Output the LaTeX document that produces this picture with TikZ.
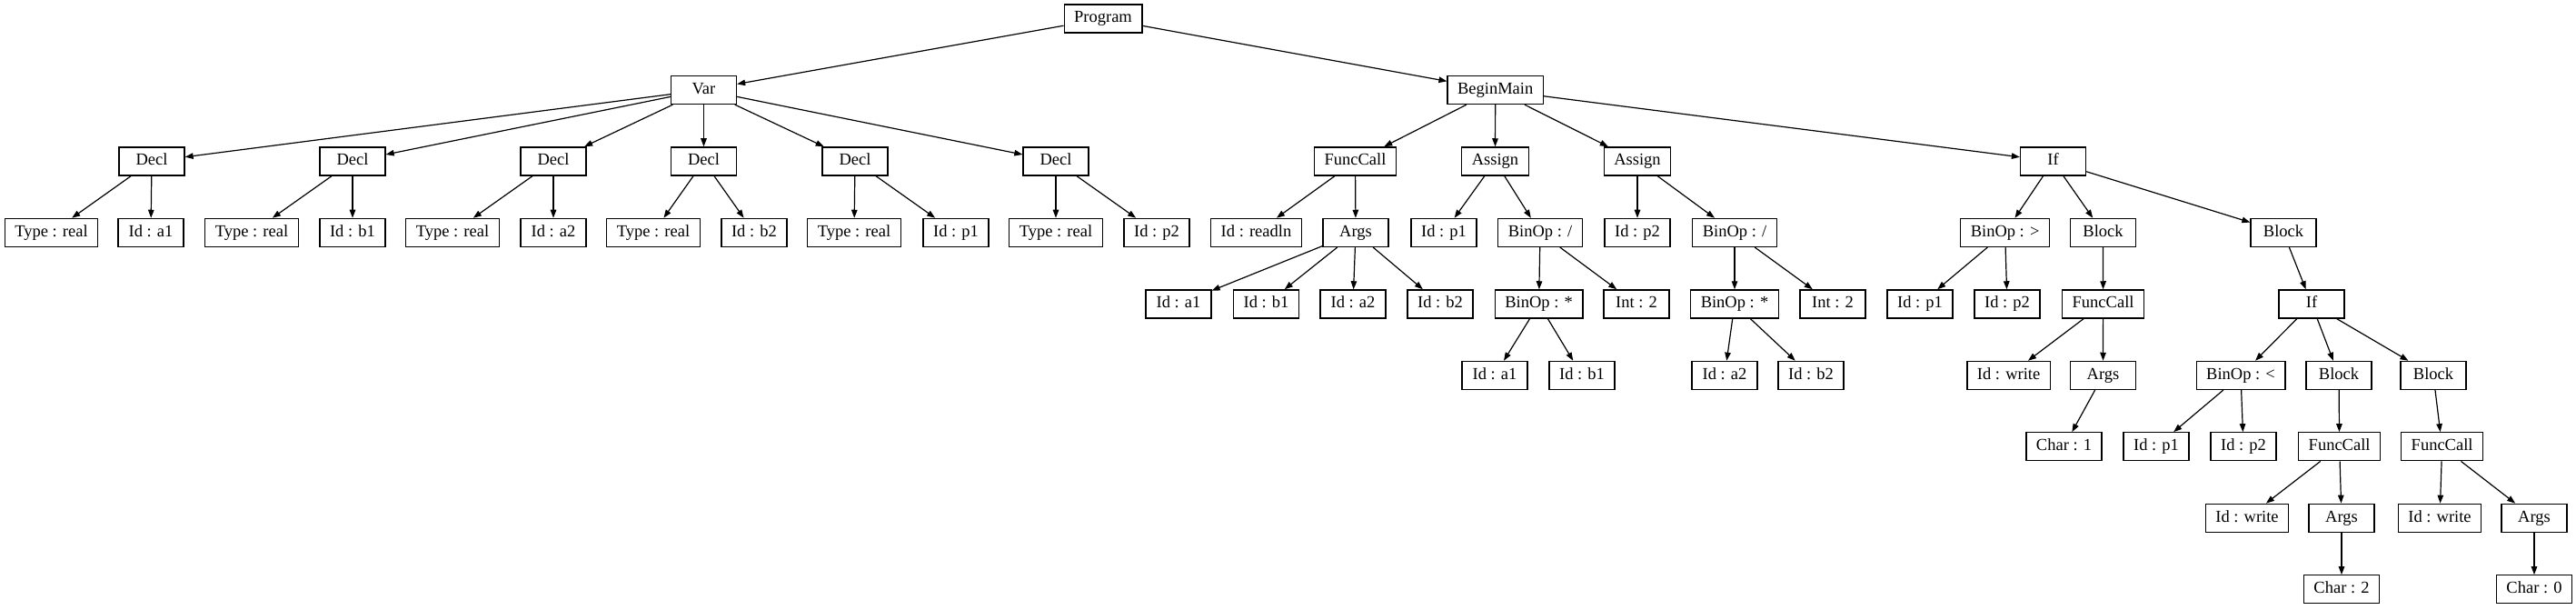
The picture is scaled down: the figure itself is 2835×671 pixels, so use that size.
\documentclass[tikz,border=0pt]{standalone}
\usepackage{fontspec}
\setmainfont{Liberation Serif}
\usetikzlibrary{arrows.meta}
\tikzset{
	ast/.style={draw, line width=1.3pt, minimum width=72pt, minimum height=31pt, inner xsep=11pt, inner ysep=0pt, text height=13pt, text depth=4pt, font=\fontsize{18.5}{20}\selectfont},
	link/.style={-{Triangle[length=9pt,width=6.5pt]}, line width=1.2pt}
}
\begin{document}
\begin{tikzpicture}[x=1pt, y=-1pt]
		\useasboundingbox (0,0) rectangle (2835,671);

		\node[ast] (prog) at (1214,20.5) {Program};

		\node[ast] (var) at (774.5,99) {Var};
		\node[ast] (main) at (1645.7,99) {BeginMain};

		\node[ast] (decl1) at (167,177.4) {Decl};
		\node[ast] (decl2) at (388,177.4) {Decl};
		\node[ast] (decl3) at (609,177.4) {Decl};
		\node[ast] (decl4) at (774.5,177.4) {Decl};
		\node[ast] (decl5) at (941,177.4) {Decl};
		\node[ast] (decl6) at (1162,177.4) {Decl};
		\node[ast] (call) at (1491.5,177.4) {FuncCall};
		\node[ast] (assign1) at (1645.5,177.4) {Assign};
		\node[ast] (assign2) at (1802,177.4) {Assign};
		\node[ast] (if1) at (2259.5,177.4) {If};

		\node[ast] (type1) at (56.5,255.9) {Type : real};
		\node[ast] (id1) at (166,255.9) {Id : a1};
		\node[ast] (type2) at (277,255.9) {Type : real};
		\node[ast] (id2) at (388,255.9) {Id : b1};
		\node[ast] (type3) at (498,255.9) {Type : real};
		\node[ast] (id3) at (609,255.9) {Id : a2};
		\node[ast] (type4) at (719,255.9) {Type : real};
		\node[ast] (id4) at (830,255.9) {Id : b2};
		\node[ast] (type5) at (940,255.9) {Type : real};
		\node[ast] (id5) at (1052,255.9) {Id : p1};
		\node[ast] (type6) at (1162,255.9) {Type : real};
		\node[ast] (id6) at (1273,255.9) {Id : p2};
		\node[ast] (readln) at (1382.5,255.9) {Id : readln};
		\node[ast] (args) at (1492,255.9) {Args};
		\node[ast] (lhs1) at (1589,255.9) {Id : p1};
		\node[ast] (div1) at (1695,255.9) {BinOp : /};
		\node[ast] (lhs2) at (1802,255.9) {Id : p2};
		\node[ast] (div2) at (1909,255.9) {BinOp : /};
		\node[ast] (gt) at (2206.6,255.9) {BinOp : >};
		\node[ast] (block1) at (2314.5,255.9) {Block};
		\node[ast] (block2) at (2513,255.9) {Block};

		\node[ast] (arga1) at (1297,334.4) {Id : a1};
		\node[ast] (argb1) at (1393.5,334.4) {Id : b1};
		\node[ast] (arga2) at (1489,334.4) {Id : a2};
		\node[ast] (argb2) at (1585,334.4) {Id : b2};
		\node[ast] (mul1) at (1693.6,334.4) {BinOp : *};
		\node[ast] (int1) at (1801,334.4) {Int : 2};
		\node[ast] (mul2) at (1909,334.4) {BinOp : *};
		\node[ast] (int2) at (2017,334.4) {Int : 2};
		\node[ast] (gtp1) at (2113,334.4) {Id : p1};
		\node[ast] (gtp2) at (2209,334.4) {Id : p2};
		\node[ast] (call1) at (2314.6,334.4) {FuncCall};
		\node[ast] (if2) at (2544,334.4) {If};

		\node[ast] (mula1) at (1645,412.9) {Id : a1};
		\node[ast] (mulb1) at (1741,412.9) {Id : b1};
		\node[ast] (mula2) at (1898,412.9) {Id : a2};
		\node[ast] (mulb2) at (1993,412.9) {Id : b2};
		\node[ast] (write1) at (2210.6,412.9) {Id : write};
		\node[ast] (args1) at (2314.5,412.9) {Args};
		\node[ast] (lt) at (2466,412.9) {BinOp : <};
		\node[ast] (block3) at (2574,412.9) {Block};
		\node[ast] (block4) at (2678,412.9) {Block};

		\node[ast] (char1) at (2271.5,491.3) {Char : 1};
		\node[ast] (ltp1) at (2373,491.3) {Id : p1};
		\node[ast] (ltp2) at (2469,491.3) {Id : p2};
		\node[ast] (call2) at (2574.6,491.3) {FuncCall};
		\node[ast] (call3) at (2687.6,491.3) {FuncCall};

		\node[ast] (write2) at (2473,569.8) {Id : write};
		\node[ast] (args2) at (2577,569.8) {Args};
		\node[ast] (write3) at (2685,569.8) {Id : write};
		\node[ast] (args3) at (2789,569.8) {Args};

		\node[ast] (char2) at (2577,648.3) {Char : 2};
		\node[ast] (char0) at (2789,648.3) {Char : 0};

		\draw[link] (prog) -- (var);
		\draw[link] (prog) -- (main);

		\draw[link] (var) -- (decl1);
		\draw[link] (var) -- (decl2);
		\draw[link] (var) -- (decl3);
		\draw[link] (var) -- (decl4);
		\draw[link] (var) -- (decl5);
		\draw[link] (var) -- (decl6);
		\draw[link] (decl1) -- (type1);
		\draw[link] (decl1) -- (id1);
		\draw[link] (decl2) -- (type2);
		\draw[link] (decl2) -- (id2);
		\draw[link] (decl3) -- (type3);
		\draw[link] (decl3) -- (id3);
		\draw[link] (decl4) -- (type4);
		\draw[link] (decl4) -- (id4);
		\draw[link] (decl5) -- (type5);
		\draw[link] (decl5) -- (id5);
		\draw[link] (decl6) -- (type6);
		\draw[link] (decl6) -- (id6);

		\draw[link] (main) -- (call);
		\draw[link] (main) -- (assign1);
		\draw[link] (main) -- (assign2);
		\draw[link] (main) -- (if1);

		\draw[link] (call) -- (readln);
		\draw[link] (call) -- (args);
		\draw[link] (args) -- (arga1);
		\draw[link] (args) -- (argb1);
		\draw[link] (args) -- (arga2);
		\draw[link] (args) -- (argb2);

		\draw[link] (assign1) -- (lhs1);
		\draw[link] (assign1) -- (div1);
		\draw[link] (div1) -- (mul1);
		\draw[link] (div1) -- (int1);
		\draw[link] (mul1) -- (mula1);
		\draw[link] (mul1) -- (mulb1);

		\draw[link] (assign2) -- (lhs2);
		\draw[link] (assign2) -- (div2);
		\draw[link] (div2) -- (mul2);
		\draw[link] (div2) -- (int2);
		\draw[link] (mul2) -- (mula2);
		\draw[link] (mul2) -- (mulb2);

		\draw[link] (if1) -- (gt);
		\draw[link] (if1) -- (block1);
		\draw[link] (if1) -- (block2);
		\draw[link] (gt) -- (gtp1);
		\draw[link] (gt) -- (gtp2);
		\draw[link] (block1) -- (call1);
		\draw[link] (call1) -- (write1);
		\draw[link] (call1) -- (args1);
		\draw[link] (args1) -- (char1);

		\draw[link] (block2) -- (if2);
		\draw[link] (if2) -- (lt);
		\draw[link] (if2) -- (block3);
		\draw[link] (if2) -- (block4);
		\draw[link] (lt) -- (ltp1);
		\draw[link] (lt) -- (ltp2);
		\draw[link] (block3) -- (call2);
		\draw[link] (call2) -- (write2);
		\draw[link] (call2) -- (args2);
		\draw[link] (args2) -- (char2);
		\draw[link] (block4) -- (call3);
		\draw[link] (call3) -- (write3);
		\draw[link] (call3) -- (args3);
		\draw[link] (args3) -- (char0);
	\end{tikzpicture}
\end{document}
